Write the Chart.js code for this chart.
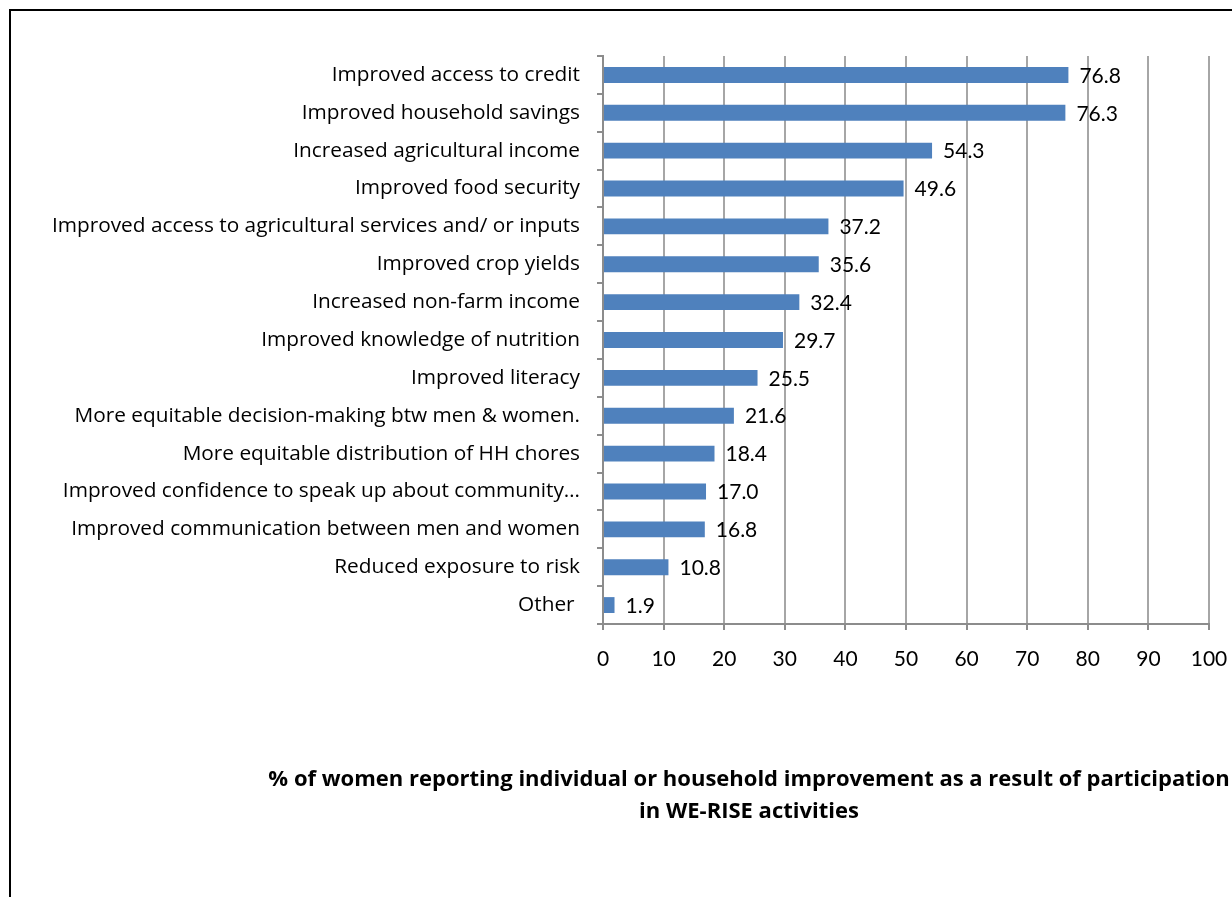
<!DOCTYPE html>
<html>
<head>
<meta charset="utf-8">
<script src="https://cdn.jsdelivr.net/npm/chart.js@4"></script>
<style>
  html, body { margin: 0; padding: 0; background: #fff; }
  #wrap { position: relative; width: 1232px; height: 897px; overflow: hidden; }
  #frame { position: absolute; left: 9px; top: 9px; right: -4px; bottom: -4px;
           border-left: 2px solid #000; border-top: 2px solid #000; }
  canvas { position: absolute; left: 0; top: 0; }
</style>
</head>
<body>
<div id="wrap">
  <div id="frame"></div>
  <canvas id="c" width="1232" height="897"></canvas>
</div>
<script>
const categories = [
  'Improved access to credit',
  'Improved household savings',
  'Increased agricultural income',
  'Improved food security',
  'Improved access to agricultural services and/ or inputs',
  'Improved crop yields',
  'Increased non-farm income',
  'Improved knowledge of nutrition',
  'Improved literacy',
  'More equitable decision-making btw men & women.',
  'More equitable distribution of HH chores',
  'Improved confidence to speak up about community\u2026',
  'Improved communication between men and women',
  'Reduced exposure to risk',
  'Other '
];
const percentWomen = [76.8, 76.3, 54.3, 49.6, 37.2, 35.6, 32.4, 29.7, 25.5, 21.6, 18.4, 17.0, 16.8, 10.8, 1.9];
const xTicks = [0, 10, 20, 30, 40, 50, 60, 70, 80, 90, 100];
const captionLines = [
  '% of women reporting individual or household improvement as a result of participation',
  'in WE-RISE activities'
];

const FONT = '"Open Sans", Lato, sans-serif';
const NUM_FONT = 'Lato, "Open Sans", sans-serif';

// value labels written just past the end of each bar
const valueLabels = {
  id: 'valueLabels',
  afterDatasetsDraw(chart) {
    const ctx = chart.ctx;
    const meta = chart.getDatasetMeta(0);
    ctx.save();
    ctx.font = '21px ' + NUM_FONT;
    ctx.fillStyle = '#000';
    ctx.textAlign = 'left';
    ctx.textBaseline = 'middle';
    meta.data.forEach((bar, i) => {
      ctx.fillText(percentWomen[i].toFixed(1), bar.x + 11, bar.y + 1);
    });
    ctx.restore();
  }
};

// two-line bold caption under the chart
const caption = {
  id: 'caption',
  afterDraw(chart) {
    const ctx = chart.ctx;
    ctx.save();
    ctx.font = 'bold 22px ' + FONT;
    ctx.fillStyle = '#000';
    ctx.textAlign = 'center';
    ctx.textBaseline = 'middle';
    const base = chart.chartArea.bottom;
    ctx.fillText(captionLines[0], 749, base + 156);
    ctx.fillText(captionLines[1], 749, base + 188);
    ctx.restore();
  }
};

new Chart(document.getElementById('c'), {
  type: 'bar',
  data: {
    labels: categories,
    datasets: [{
      data: percentWomen,
      backgroundColor: '#4f81bd',
      borderWidth: 0,
      barPercentage: 0.42,
      categoryPercentage: 1
    }]
  },
  options: {
    indexAxis: 'y',
    responsive: false,
    animation: false,
    devicePixelRatio: 1,
    layout: { padding: { top: 56, right: 23, bottom: 213, left: 0 } },
    plugins: { legend: { display: false }, tooltip: { enabled: false }, title: { display: false } },
    scales: {
      x: {
        type: 'linear',
        min: 0,
        max: 100,
        afterBuildTicks(scale) { scale.ticks = xTicks.map(v => ({ value: v })); },
        afterFit(scale) { scale.height = 60; scale.paddingLeft = 0; scale.paddingRight = 0; },
        border: { display: true, color: '#8c8c8c', width: 2 },
        grid: { color: '#a6a6a6', lineWidth: 2, drawTicks: true, tickLength: 6, tickColor: '#8c8c8c' },
        ticks: { color: '#000', font: { family: NUM_FONT, size: 21 }, padding: 17, maxRotation: 0 }
      },
      y: {
        type: 'category',
        afterFit(scale) { scale.width = 603; scale.paddingTop = 0; scale.paddingBottom = 0; },
        border: { display: true, color: '#8c8c8c', width: 2 },
        grid: { drawOnChartArea: false, drawTicks: true, tickLength: 6, offset: true, color: '#8c8c8c', lineWidth: 2 },
        ticks: { color: '#000', font: { family: FONT, size: 20.8 }, padding: 17, autoSkip: false }
      }
    }
  },
  plugins: [valueLabels, caption]
});
</script>
</body>
</html>
